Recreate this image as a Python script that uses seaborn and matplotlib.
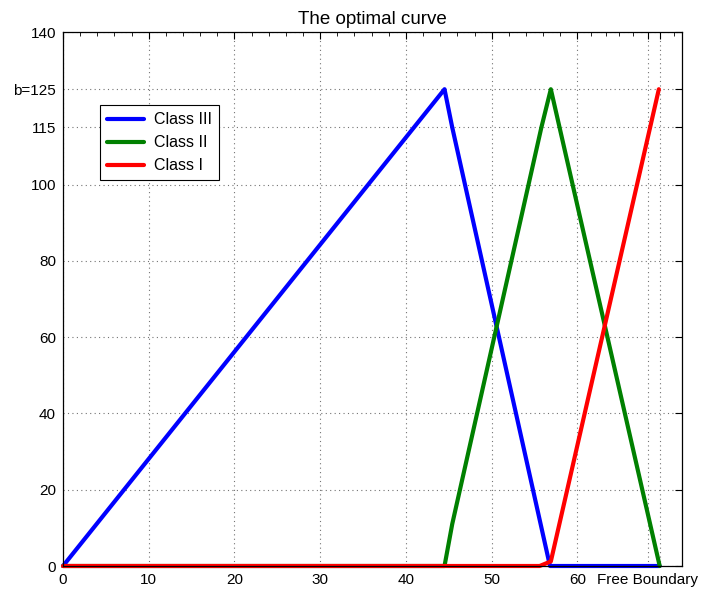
import numpy as np
import pandas as pd
import matplotlib
matplotlib.use('Agg')
import matplotlib.pyplot as plt
import seaborn as sns

# data
class3_x = [0, 44.5, 45.4, 56.8, 69.6]
class3_y = [0, 125, 115, 0, 0]
class2_x = [0, 44.5, 45.4, 55.8, 56.9, 69.6]
class2_y = [0, 0, 11, 115, 125, 0]
class1_x = [0, 55.6, 56.9, 69.5]
class1_y = [0, 0, 1.2, 125]

x_ticks = [0, 10, 20, 30, 40, 50, 60, 68.2, 69.6]
x_labels = ['0', '10', '20', '30', '40', '50', '60', 'Free Boundary', '']
y_ticks = [0, 20, 40, 60, 80, 100, 115, 125, 140]
y_labels = ['0', '20', '40', '60', '80', '100', '115', 'b=125', '140']

df = pd.concat([
    pd.DataFrame({'x': class3_x, 'y': class3_y, 'cls': 'Class III'}),
    pd.DataFrame({'x': class2_x, 'y': class2_y, 'cls': 'Class II'}),
    pd.DataFrame({'x': class1_x, 'y': class1_y, 'cls': 'Class I'}),
], ignore_index=True)

sns.set_style('white')
plt.rcParams['font.family'] = ['Liberation Sans', 'DejaVu Sans']
plt.rcParams['font.size'] = 11
plt.rcParams['text.color'] = 'black'

fig = plt.figure(figsize=(7.01, 5.91), dpi=100)
ax = fig.add_axes([63 / 701, 1 - 566 / 591, 619 / 701, 534 / 591])

sns.lineplot(data=df, x='x', y='y', hue='cls', sort=False, estimator=None,
             palette={'Class III': '#0000ff', 'Class II': '#008000', 'Class I': '#ff0000'},
             hue_order=['Class III', 'Class II', 'Class I'], linewidth=3, ax=ax)
for ln in ax.get_lines():
    ln.set_clip_on(False)

ax.set_xlim(0, 72.2)
ax.set_ylim(0, 140)
ax.set_xticks(x_ticks)
ax.set_xticklabels(x_labels)
ax.set_yticks(y_ticks)
ax.set_yticklabels(y_labels)
minor = list(np.arange(2, 60, 2)) + [61.6, 63.3, 64.9, 66.5, 71.3]
ax.set_xticks([m for m in minor if m % 10 != 0], minor=True)
ax.tick_params(which='both', direction='in', top=True, right=True, labelsize=11, colors='black')
ax.tick_params(which='major', length=5, width=0.8, pad=5)
ax.tick_params(which='minor', length=3, width=0.6)
ax.grid(True, which='major', linestyle=(0, (1, 3)), color='0.45', linewidth=0.8)
for s in ax.spines.values():
    s.set_color('black')
    s.set_linewidth(0.9)

ax.set_xlabel('')
ax.set_ylabel('')
ax.set_title('The optimal curve', fontsize=13.5, pad=6, color='black')

leg = ax.legend(loc='upper left', bbox_to_anchor=(37 / 619, 1 - 73 / 534), frameon=True, fancybox=False,
                edgecolor='black', framealpha=1, fontsize=11.5, handlelength=2.3,
                borderpad=0.45, labelspacing=0.5, handletextpad=0.6, borderaxespad=0)
leg.get_frame().set_linewidth(0.8)
for t in leg.get_texts():
    t.set_color('black')

fig.savefig('out.png', dpi=100)
